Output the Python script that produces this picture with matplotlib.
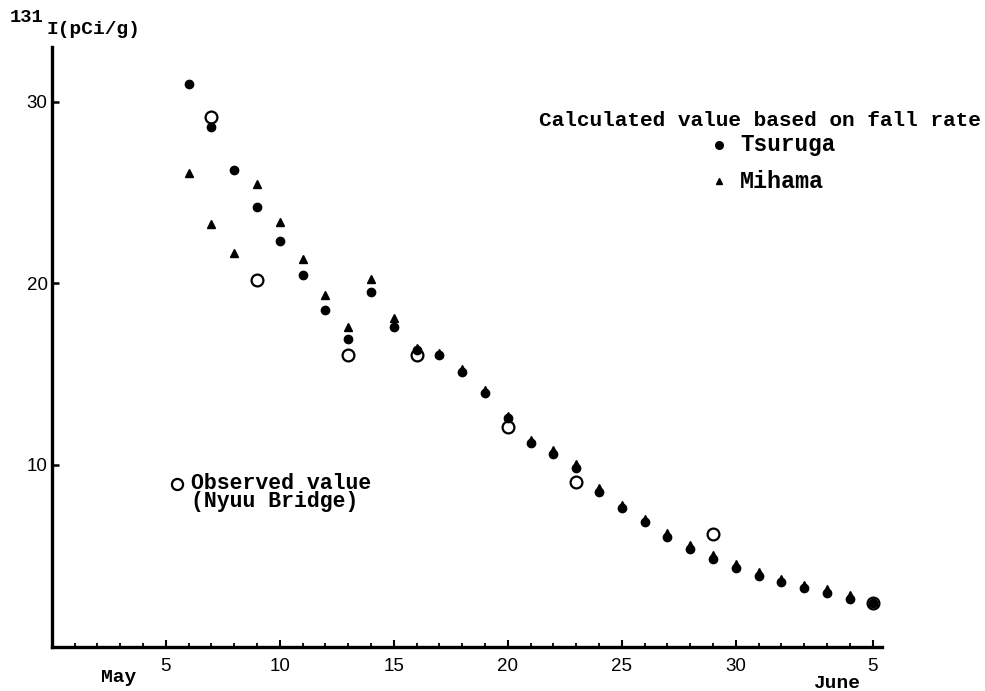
import matplotlib
matplotlib.use("Agg")
import matplotlib.pyplot as plt
from matplotlib.ticker import FixedLocator

# Day index: May d -> d, June d -> 31 + d
days_calc = list(range(6, 37))
tsuruga = [30.98, 28.62, 26.25, 24.2, 22.33, 20.44, 18.53, 16.95, 19.52, 17.58,
           16.33, 16.04, 15.13, 13.95, 12.6, 11.23, 10.6, 9.82, 8.53, 7.62,
           6.85, 6.05, 5.36, 4.81, 4.35, 3.91, 3.54, 3.21, 2.94, 2.61, 2.39]
mihama = [26.05, 23.26, 21.65, 25.46, 23.36, 21.34, 19.36, 17.61, 20.24, 18.11,
          16.44, 16.16, 15.28, 14.13, 12.71, 11.38, 10.83, 10.05, 8.73, 7.8,
          7.03, 6.26, 5.6, 5.05, 4.55, 4.11, 3.75, 3.42, 3.15, 2.82, 2.46]
days_obs = [7, 9, 13, 16, 20, 23, 29, 36]
observed = [29.13, 20.18, 16.05, 16.05, 12.1, 9.08, 6.2, 2.39]

xtick_pos = [5, 10, 15, 20, 25, 30, 36]
xtick_labels = ["5", "10", "15", "20", "25", "30", "5"]
ytick_pos = [10, 20, 30]
ytick_labels = ["10", "20", "30"]

mono = ["Liberation Mono", "DejaVu Sans Mono"]
narrow = ["Liberation Sans Narrow", "Liberation Sans", "DejaVu Sans"]

fig = plt.figure(figsize=(9.85, 6.91), dpi=100)
ax = fig.add_axes([0.0525, 0.0641, 0.8427, 0.8679])

ax.plot(days_calc, mihama, linestyle="none", marker="^", color="black",
        markersize=6, zorder=3)
ax.plot(days_calc, tsuruga, linestyle="none", marker="o", color="black",
        markersize=6, zorder=3)
ax.plot(days_obs, observed, linestyle="none", marker="o", markerfacecolor="none",
        markeredgecolor="black", markeredgewidth=1.6, markersize=8.5, zorder=4)

ax.set_xlim(0, 36.4)
ax.set_ylim(0, 33)

for s in ["top", "right"]:
    ax.spines[s].set_visible(False)
for s in ["left", "bottom"]:
    ax.spines[s].set_linewidth(2.4)

ax.xaxis.set_major_locator(FixedLocator(xtick_pos))
ax.set_xticklabels(xtick_labels, family=narrow, fontsize=13.5)
ax.xaxis.set_minor_locator(FixedLocator([d for d in range(1, 37) if d not in xtick_pos]))
ax.yaxis.set_major_locator(FixedLocator(ytick_pos))
ax.set_yticklabels(ytick_labels, family=narrow, fontsize=13.5)
ax.yaxis.set_minor_locator(FixedLocator([]))

ax.tick_params(axis="x", which="major", direction="in", length=5, width=1.5, pad=8)
ax.tick_params(axis="x", which="minor", direction="in", length=3, width=1.3)
ax.tick_params(axis="y", which="major", direction="in", length=5, width=1.8, pad=3)

# Axis label
fig.text(10 / 985, 1 - 18 / 691, "131", family=mono, fontsize=13.5, weight="bold",
         ha="left", va="center")
fig.text(47 / 985, 1 - 30 / 691, "I(pCi/g)", family=mono, fontsize=14, weight="bold",
         ha="left", va="center")

# Month labels
fig.text(101 / 985, 1 - 677 / 691, "May", family=mono, fontsize=14, weight="bold",
         ha="left", va="center")
fig.text(813 / 985, 1 - 684 / 691, "June", family=mono, fontsize=14, weight="bold",
         ha="left", va="center")

# Legend-like annotations
fig.text(539 / 985, 1 - 120 / 691, "Calculated value based on fall rate", family=mono,
         fontsize=15.2, weight="bold", ha="left", va="center")
fig.text(740 / 985, 1 - 145 / 691, "Tsuruga", family=mono, fontsize=16.3, weight="bold",
         ha="left", va="center")
fig.text(740 / 985, 1 - 181 / 691, "Mihama", family=mono, fontsize=16.8, weight="bold",
         ha="left", va="center")
fig.lines.append(plt.Line2D([719 / 985], [1 - 145 / 691], transform=fig.transFigure,
                            marker="o", color="black", markersize=5.5, linestyle="none"))
fig.lines.append(plt.Line2D([719 / 985], [1 - 181 / 691], transform=fig.transFigure,
                            marker="^", color="black", markersize=5, linestyle="none"))

fig.lines.append(plt.Line2D([176.5 / 985], [1 - 483.5 / 691], transform=fig.transFigure,
                            marker="o", markerfacecolor="none", markeredgecolor="black",
                            markeredgewidth=1.6, markersize=8, linestyle="none"))
fig.text(191 / 985, 1 - 473 / 691, "Observed value\n(Nyuu Bridge)", family=mono,
         fontsize=15.5, weight="bold", ha="left", va="top", linespacing=0.82)

fig.savefig("out.png", dpi=100)
